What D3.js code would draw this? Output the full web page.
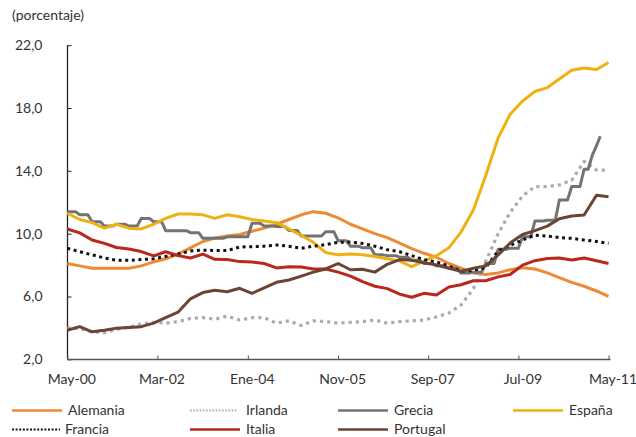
<!DOCTYPE html>
<html>
<head>
<meta charset="utf-8">
<script src="https://cdn.jsdelivr.net/npm/d3@7"></script>
<style>
  html, body { margin: 0; padding: 0; background: #fff; }
  svg { display: block; }
  text { font-family: Lato, "Open Sans", sans-serif; fill: #333; }
</style>
</head>
<body>
<svg id="chart" width="636" height="437"></svg>
<script>
// ---------- DATA ----------
// Quarterly sample dates (May-2000, Aug-2000, ... May-2011)
const dates = d3.timeMonth.range(new Date(2000, 4, 1), new Date(2011, 5, 1), 3);
const tickDates = [new Date(2000,4,1), new Date(2002,2,1), new Date(2004,0,1), new Date(2005,10,1),
                   new Date(2007,8,1), new Date(2009,6,1), new Date(2011,4,1)];
const tickLabels = ["May-00", "Mar-02", "Ene-04", "Nov-05", "Sep-07", "Jul-09", "May-11"];
const yTicks = [2, 6, 10, 14, 18, 22];

const alemania = [8.1, 7.95, 7.8, 7.8, 7.8, 7.8, 7.95, 8.2, 8.4, 8.7, 9.1, 9.5, 9.72, 9.85, 9.95, 10.15, 10.35, 10.6, 10.9, 11.2, 11.4, 11.3, 11.0, 10.6, 10.3, 10.0, 9.75, 9.4, 9.05, 8.75, 8.5, 8.1, 7.8, 7.5, 7.4, 7.5, 7.7, 7.83, 7.75, 7.5, 7.2, 6.9, 6.65, 6.35, 6.0];
const irlanda = [4.0, 3.95, 3.75, 3.7, 3.9, 4.05, 4.25, 4.35, 4.3, 4.4, 4.6, 4.65, 4.55, 4.75, 4.5, 4.65, 4.65, 4.3, 4.45, 4.15, 4.45, 4.4, 4.3, 4.35, 4.4, 4.5, 4.3, 4.4, 4.45, 4.5, 4.7, 4.95, 5.45, 6.5, 8.25, 10.0, 11.35, 12.4, 13.0, 13.0, 13.1, 13.4, 14.6, 14.05, 14.05];
// Grecia: quarterly figures held for the three months of each quarter, up to Dec-10 ...
const greciaQuarterly = [11.4, 11.2, 10.76, 10.48, 10.6, 10.48, 10.97, 10.76, 10.19, 10.19, 10.06, 9.7, 9.7, 9.8, 9.8, 10.66, 10.48, 10.45, 10.2, 9.85, 9.85, 10.12, 9.55, 9.2, 9.1, 8.65, 8.6, 8.5, 8.3, 8.1, 7.95, 7.8, 7.5, 7.55, 8.1, 9.0, 9.07, 9.8, 10.8, 10.85, 12.14, 13.0, 14.1];
const greciaQuarterEnd = new Date(2010, 11, 1);
// ... then monthly values Jan-11 to Mar-11
const greciaTailDates = [new Date(2011, 0, 1), new Date(2011, 1, 1), new Date(2011, 2, 1)];
const greciaTail = [15.0, 15.6, 16.2];
const espana = [11.3, 10.9, 10.7, 10.35, 10.6, 10.35, 10.3, 10.6, 10.97, 11.25, 11.25, 11.2, 10.97, 11.2, 11.08, 10.9, 10.8, 10.7, 10.3, 9.88, 9.45, 8.8, 8.65, 8.7, 8.65, 8.55, 8.4, 8.25, 7.9, 8.25, 8.6, 9.1, 10.1, 11.5, 13.7, 16.1, 17.6, 18.45, 19.05, 19.3, 19.85, 20.4, 20.55, 20.45, 20.9];
const francia = [9.07, 8.85, 8.65, 8.45, 8.3, 8.3, 8.35, 8.4, 8.55, 8.7, 8.9, 8.95, 8.93, 8.92, 9.15, 9.17, 9.2, 9.28, 9.2, 9.07, 9.2, 9.3, 9.45, 9.47, 9.38, 9.2, 8.98, 8.85, 8.6, 8.35, 8.2, 7.95, 7.6, 7.65, 7.85, 8.9, 9.25, 9.6, 9.9, 9.85, 9.75, 9.7, 9.6, 9.5, 9.38];
const italia = [10.3, 10.05, 9.6, 9.38, 9.12, 9.02, 8.86, 8.58, 8.85, 8.6, 8.45, 8.7, 8.37, 8.35, 8.22, 8.2, 8.1, 7.82, 7.9, 7.88, 7.75, 7.75, 7.55, 7.3, 6.94, 6.65, 6.5, 6.15, 5.95, 6.2, 6.1, 6.6, 6.75, 7.0, 7.0, 7.25, 7.4, 8.0, 8.28, 8.42, 8.45, 8.32, 8.45, 8.28, 8.1];
const portugal = [3.85, 4.08, 3.75, 3.85, 3.98, 4.03, 4.08, 4.3, 4.65, 5.0, 5.85, 6.25, 6.4, 6.3, 6.52, 6.2, 6.55, 6.9, 7.05, 7.3, 7.55, 7.75, 8.1, 7.7, 7.73, 7.55, 8.05, 8.35, 8.3, 8.15, 8.0, 7.8, 7.6, 7.8, 7.95, 8.65, 9.4, 9.95, 10.19, 10.48, 10.95, 11.12, 11.19, 12.45, 12.35];

// ---------- CHART ----------
const svg = d3.select("#chart");
const x = d3.scaleTime().domain([new Date(2000,4,1), new Date(2011,4,1)]).range([67.3, 608.5]);
const y = d3.scaleLinear().domain([2, 22]).range([359.3, 45.2]);

// Grecia monthly points from its quarterly figures, then the monthly tail
const greciaPts = [];
greciaQuarterly.forEach((v, i) => {
  for (let k = 0; k < 3; k++) {
    const d = d3.timeMonth.offset(dates[i], k);
    if (d <= greciaQuarterEnd) greciaPts.push([d, v]);
  }
});
greciaTailDates.forEach((d, i) => greciaPts.push([d, greciaTail[i]]));

const series = [
  { name: "Alemania", pts: dates.map((d, i) => [d, alemania[i]]), color: "#EE8A35", dash: null, w: 3 },
  { name: "Irlanda",  pts: dates.map((d, i) => [d, irlanda[i]]),  color: "#ABABAB", dash: "3.2,4", w: 3.2 },
  { name: "Grecia",   pts: greciaPts,                              color: "#737373", dash: null, w: 3 },
  { name: "España",   pts: dates.map((d, i) => [d, espana[i]]),   color: "#EDB111", dash: null, w: 3 },
  { name: "Francia",  pts: dates.map((d, i) => [d, francia[i]]),  color: "#111111", dash: "3,3.6", w: 3 },
  { name: "Italia",   pts: dates.map((d, i) => [d, italia[i]]),   color: "#B8281C", dash: null, w: 3 },
  { name: "Portugal", pts: dates.map((d, i) => [d, portugal[i]]), color: "#6B4434", dash: null, w: 3 }
];

// axes
const yAxis = d3.axisLeft(y).tickValues(yTicks).tickSize(-4).tickPadding(25)
  .tickFormat(d => d3.format(".1f")(d).replace(".", ","));
const gy = svg.append("g").attr("transform", "translate(67.5,0)").call(yAxis);
gy.select(".domain").attr("stroke", "#222").attr("stroke-width", 1.3).attr("d", `M0,${y(22)}V${y(2)}`);
gy.selectAll(".tick line").attr("stroke", "#222");
gy.selectAll(".tick text").attr("font-size", 14).attr("fill", "#333").attr("font-family", "Lato, sans-serif");

const xAxis = d3.axisBottom(x).tickValues(tickDates).tickSize(-4).tickPadding(14.5)
  .tickFormat((d, i) => tickLabels[i]);
const gx = svg.append("g").attr("transform", "translate(0,359.5)").call(xAxis);
gx.select(".domain").attr("stroke", "#555").attr("stroke-width", 1.3).attr("d", `M${x.range()[0]},0H${x.range()[1] + 2}`);
gx.selectAll(".tick line").attr("stroke", "#555");
gx.selectAll(".tick text").attr("font-size", 14).attr("fill", "#333").attr("dx", 4).attr("font-family", "Lato, sans-serif");

// lines
const line = d3.line().x(d => x(d[0])).y(d => y(d[1]));
svg.append("g").selectAll("path").data(series).join("path")
  .attr("d", d => line(d.pts))
  .attr("fill", "none")
  .attr("stroke", d => d.color)
  .attr("stroke-width", d => d.w)
  .attr("stroke-dasharray", d => d.dash)
  .attr("stroke-linejoin", "round");

// title
svg.append("text").attr("x", 12).attr("y", 20).attr("font-size", 14).text("(porcentaje)");

// legend
const legendPos = {
  "Alemania": [12, 410.5], "Irlanda": [190, 410.5], "Grecia": [338, 410.5], "España": [513, 410.5],
  "Francia": [12, 429.5], "Italia": [190, 429.5], "Portugal": [338, 429.5]
};
const lg = svg.append("g").selectAll("g").data(series).join("g")
  .attr("transform", d => `translate(${legendPos[d.name][0]},${legendPos[d.name][1]})`);
lg.append("line").attr("x1", 0).attr("x2", d => (d.name === "Francia" || d.name === "Irlanda") ? 48 : 50)
  .attr("y1", 0).attr("y2", 0)
  .attr("stroke", d => d.color)
  .attr("stroke-width", d => d.dash ? 2 : 2.6)
  .attr("stroke-dasharray", d => d.name === "Irlanda" ? "1.6,1.6" : (d.dash ? "2,1.6" : null));
lg.append("text").attr("x", d => d.name === "Francia" ? 53 : 56).attr("y", 0).attr("dy", "0.35em")
  .attr("font-size", 14).text(d => d.name);
</script>
</body>
</html>
